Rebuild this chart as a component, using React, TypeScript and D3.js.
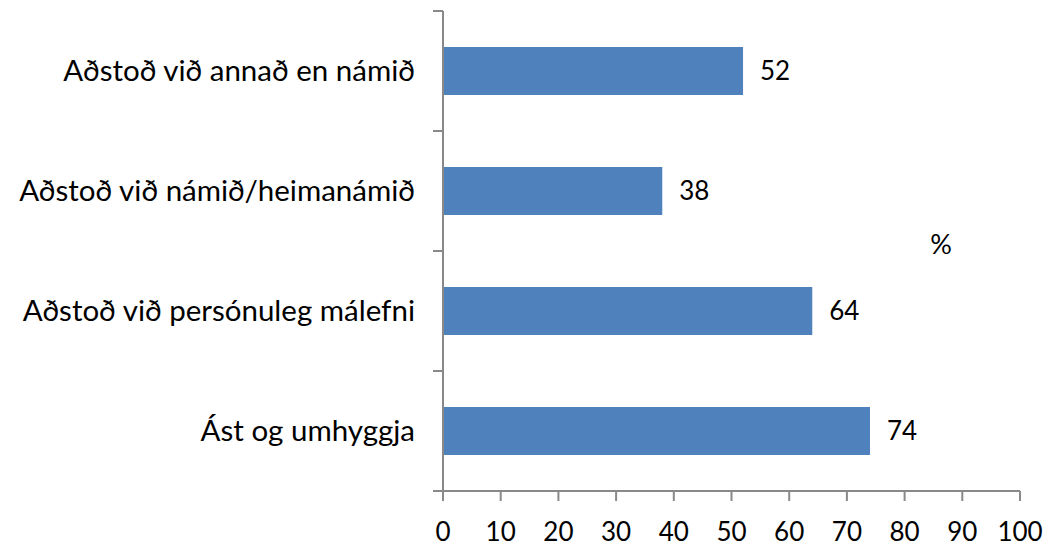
import React, { useEffect, useRef } from 'react';
import * as d3 from 'd3';

const categories = [
  'Aðstoð við annað en námið',
  'Aðstoð við námið/heimanámið',
  'Aðstoð við persónuleg málefni',
  'Ást og umhyggja',
];
const values = [52, 38, 64, 74];
const xTicks = [0, 10, 20, 30, 40, 50, 60, 70, 80, 90, 100];

const W = 1052;
const H = 549;
const FONT = 'Lato, "Open Sans", sans-serif';

const App = () => {
  const svgRef = useRef<SVGSVGElement>(null);

  useEffect(() => {
    const svg = d3.select(svgRef.current);
    svg.selectAll('*').remove();

    const x = d3.scaleLinear().domain([0, 100]).range([443, 1020]);
    const y = d3.scaleBand().domain(categories).range([11, 491]).paddingInner(0.6).paddingOuter(0.3);
    const band = d3.scaleBand().domain(categories).range([11, 491]);

    const axisColor = '#898989';

    // bars
    svg.append('g')
      .selectAll('rect')
      .data(categories)
      .join('rect')
        .attr('x', x(0))
        .attr('y', d => y(d)!)
        .attr('width', (d, i) => x(values[i]) - x(0))
        .attr('height', y.bandwidth())
        .attr('fill', '#4F81BD');

    // value labels
    svg.append('g')
      .selectAll('text')
      .data(categories)
      .join('text')
        .attr('x', (d, i) => x(values[i]) + 17)
        .attr('y', d => y(d)! + y.bandwidth() / 2)
        .attr('dy', '0.35em')
        .style('font-family', FONT)
        .style('font-size', '26px')
        .style('fill', '#000')
        .text((d, i) => values[i]);

    // y axis line and ticks
    const yAxis = svg.append('g');
    yAxis.append('line')
      .attr('x1', x(0)).attr('x2', x(0))
      .attr('y1', 11).attr('y2', 491)
      .attr('stroke', axisColor).attr('stroke-width', 2);
    const yTickPos = [...categories.map(c => band(c)!), 491];
    yAxis.selectAll('line.tick')
      .data(yTickPos)
      .join('line')
        .attr('class', 'tick')
        .attr('x1', x(0) - 10).attr('x2', x(0))
        .attr('y1', d => d).attr('y2', d => d)
        .attr('stroke', axisColor).attr('stroke-width', 2);

    yAxis.selectAll('text')
      .data(categories)
      .join('text')
        .attr('x', 415)
        .attr('y', d => band(d)! + band.bandwidth() / 2)
        .attr('dy', '0.35em')
        .attr('text-anchor', 'end')
        .style('font-family', FONT)
        .style('font-size', '29.5px')
        .style('fill', '#000')
        .text(d => d);

    // x axis
    const xAxis = svg.append('g');
    xAxis.append('line')
      .attr('x1', x(0) - 10).attr('x2', x(100))
      .attr('y1', 491).attr('y2', 491)
      .attr('stroke', axisColor).attr('stroke-width', 2);
    xAxis.selectAll('line.tick')
      .data(xTicks)
      .join('line')
        .attr('class', 'tick')
        .attr('x1', d => x(d)).attr('x2', d => x(d))
        .attr('y1', 491).attr('y2', 501)
        .attr('stroke', axisColor).attr('stroke-width', 2);
    xAxis.selectAll('text')
      .data(xTicks)
      .join('text')
        .attr('x', d => x(d))
        .attr('y', 532)
        .attr('dy', '0.35em')
        .attr('text-anchor', 'middle')
        .style('font-family', FONT)
        .style('font-size', '26px')
        .style('fill', '#000')
        .text(d => d);

    svg.append('text')
      .attr('x', 941)
      .attr('y', 245)
      .attr('dy', '0.35em')
      .attr('text-anchor', 'middle')
      .style('font-family', FONT)
      .style('font-size', '27px')
      .style('fill', '#000')
      .text('%');
  }, []);

  return (
    <svg
      ref={svgRef}
      width={W}
      height={H}
      style={{ position: 'absolute', left: 0, top: 0, background: '#fff' }}
    />
  );
};

export default App;
